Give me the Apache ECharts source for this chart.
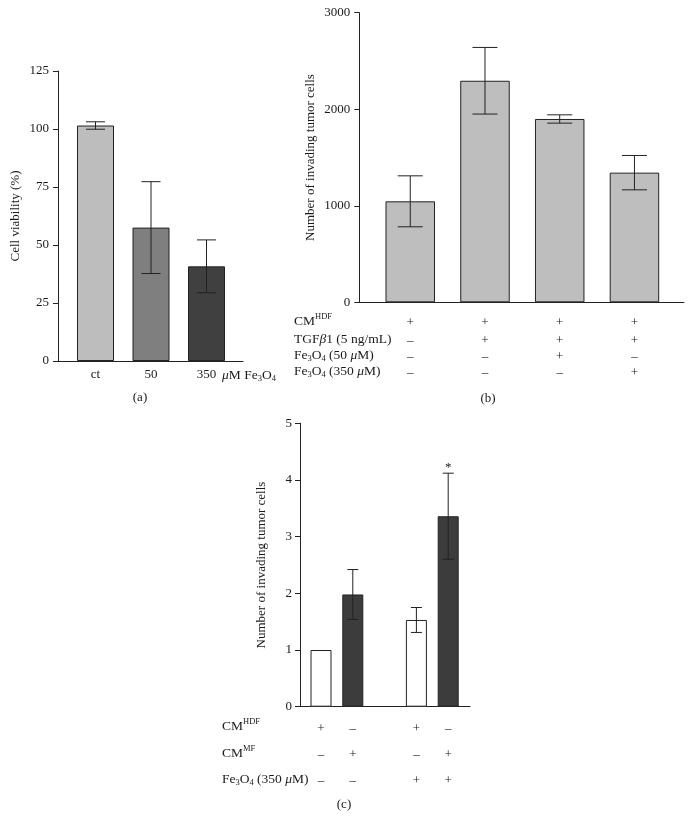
<!DOCTYPE html>
<html>
<head>
<meta charset="utf-8">
<script src="https://cdn.jsdelivr.net/npm/echarts@6/dist/echarts.min.js"></script>
<style>html,body{margin:0;padding:0;background:#fff}#c{width:693px;height:819px}</style>
</head>
<body>
<div id="c"></div>
<script>
// ---------- Panel (a) ----------
const aCats = ['ct', '50', '350'];
const aVals = [101.5, 57.5, 40.8];
const aErr = [1.6, 19.8, 11.4];
const aColors = ['#bdbdbd', '#7f7f7f', '#404040'];
const aYMin = 0, aYMax = 125, aYStep = 25;

// ---------- Panel (b) ----------
const bCats = ['1', '2', '3', '4'];
const bVals = [1046, 2295, 1899, 1343];
const bErr = [264, 345, 43, 178];
const bYMin = 0, bYMax = 3000, bYStep = 1000;
const bRowLabels = ['CM{sup|HDF}', 'TGF{i|β}1 (5 ng/mL)', 'Fe{sub|3}O{sub|4} (50 {i|μ}M)', 'Fe{sub|3}O{sub|4} (350 {i|μ}M)'];
const bSigns = [
  ['+', '+', '+', '+'],
  ['–', '+', '+', '+'],
  ['–', '–', '+', '–'],
  ['–', '–', '–', '+']
];

// ---------- Panel (c) ----------
const cCats = ['1', '2', 'gap', '3', '4'];
const cVals = [1.0, 1.98, null, 1.53, 3.36];
const cErr = [0, 0.44, null, 0.22, 0.76];
const cColors = ['#ffffff', '#3c3c3c', '#ffffff', '#ffffff', '#3c3c3c'];
const cStars = ['', '', '', '', '*'];
const cYMin = 0, cYMax = 5, cYStep = 1;
const cRowLabels = ['CM{sup|HDF}', 'CM{sup|MF}', 'Fe{sub|3}O{sub|4} (350 {i|μ}M)'];
const cSigns = [
  ['+', '–', '', '+', '–'],
  ['–', '+', '', '–', '+'],
  ['–', '–', '', '+', '+']
];

const FF = 'Liberation Serif';
const FS = 13;
const TXT = '#1a1a1a';
const LINE = '#222';
const rich = {
  sup: { fontSize: 8.5, fontFamily: FF, verticalAlign: 'top', lineHeight: 9, color: TXT },
  sub: { fontSize: 8.5, fontFamily: FF, verticalAlign: 'bottom', lineHeight: 9, color: TXT },
  i: { fontSize: 13.5, fontFamily: FF, fontStyle: 'italic', color: TXT, lineHeight: 17 }
};

const chart = echarts.init(document.getElementById('c'), null, { renderer: 'canvas' });

const grids = [], xAxes = [], yAxes = [], series = [], graphics = [];

function addPanel(p) {
  const gA = grids.length;
  grids.push({ left: p.axisLeft, top: p.top, width: p.axisWidth, height: p.height, containLabel: false });
  const gB = grids.length;
  grids.push({ left: p.barLeft, top: p.top, width: p.barWidthGrid, height: p.height, containLabel: false });

  // axis-only grid
  xAxes.push({ gridIndex: gA, type: 'value', min: 0, max: 1, axisLine: { show: true, lineStyle: { color: LINE, width: 1 } },
    axisTick: { show: false }, axisLabel: { show: false }, splitLine: { show: false } });
  yAxes.push({ gridIndex: gA, type: 'value', min: p.yMin, max: p.yMax, interval: p.yStep,
    axisLine: { show: true, lineStyle: { color: LINE, width: 1 } },
    axisTick: { show: true, inside: false, length: 5, lineStyle: { color: LINE } },
    axisLabel: { color: TXT, fontFamily: FF, fontSize: FS, margin: p.labelMargin, formatter: v => String(v) },
    splitLine: { show: false },
    name: p.yName, nameLocation: 'middle', nameGap: p.nameGap, nameRotate: 90,
    nameTextStyle: { color: TXT, fontFamily: FF, fontSize: FS } });

  // bar grid
  const xBar = xAxes.length;
  xAxes.push({ gridIndex: gB, type: 'category', data: p.cats,
    axisLine: { show: false }, axisTick: { show: false },
    axisLabel: { show: !!p.showCatLabels, color: TXT, fontFamily: FF, fontSize: FS, margin: 7 } });
  const yBar = yAxes.length;
  yAxes.push({ gridIndex: gB, type: 'value', min: p.yMin, max: p.yMax, show: false, splitLine: { show: false } });

  // sign rows
  (p.signs || []).forEach((row, r) => {
    xAxes.push({ gridIndex: gB, type: 'category', data: row, position: 'bottom',
      axisLine: { show: false }, axisTick: { show: false },
      axisLabel: { color: TXT, fontFamily: FF, fontSize: FS, margin: p.rowMargins[r], interval: 0 } });
  });

  series.push({ type: 'bar', xAxisIndex: xBar, yAxisIndex: yBar, barWidth: p.barW, silent: true, z: 2,
    data: p.vals.map((v, i) => ({ value: v, itemStyle: { color: p.colors[i], borderColor: LINE, borderWidth: 1 } })),
    animation: false });

  const errData = p.vals.map((v, i) => v == null ? null : [i, v, p.errs[i], p.stars ? p.stars[i] : '']).filter(d => d);
  series.push({ type: 'custom', xAxisIndex: xBar, yAxisIndex: yBar, silent: true, animation: false, z: 5,
    data: errData, encode: { x: 0, y: 1 },
    renderItem: function (params, api) {
      const x = api.value(0), v = api.value(1), e = api.value(2);
      const star = errData[params.dataIndex][3];
      const children = [];
      if (e > 0) {
        const t = api.coord([x, v + e]), b = api.coord([x, v - e]);
        const hw = p.capW / 2;
        const st = { stroke: LINE, lineWidth: 1 };
        children.push({ type: 'line', shape: { x1: t[0], y1: t[1], x2: b[0], y2: b[1] }, style: st });
        children.push({ type: 'line', shape: { x1: t[0] - hw, y1: t[1], x2: t[0] + hw, y2: t[1] }, style: st });
        children.push({ type: 'line', shape: { x1: b[0] - hw, y1: b[1], x2: b[0] + hw, y2: b[1] }, style: st });
        if (star) {
          children.push({ type: 'text', style: { text: star, x: t[0], y: t[1] + 1, align: 'center', verticalAlign: 'bottom',
            fontFamily: FF, fontSize: 13, fill: TXT } });
        }
      }
      return { type: 'group', children: children };
    } });
}

addPanel({
  axisLeft: 58, axisWidth: 185, barLeft: 67.75, barWidthGrid: 166.5, top: 71, height: 290,
  yMin: aYMin, yMax: aYMax, yStep: aYStep, yName: 'Cell viability (%)', nameGap: 36, labelMargin: 9,
  cats: aCats, showCatLabels: true, vals: aVals, errs: aErr, colors: aColors, barW: 37, capW: 19
});
addPanel({
  axisLeft: 359.3, axisWidth: 324.7, barLeft: 372.9, barWidthGrid: 298.9, top: 12.7, height: 289.6,
  yMin: bYMin, yMax: bYMax, yStep: bYStep, yName: 'Number of invading tumor cells', nameGap: 42, labelMargin: 9,
  cats: bCats, showCatLabels: false, vals: bVals, errs: bErr, colors: bVals.map(() => '#bebebe'), barW: 49.5, capW: 25,
  signs: bSigns, rowMargins: [14, 32, 48, 64]
});
addPanel({
  axisLeft: 300, axisWidth: 170, barLeft: 305.1, barWidthGrid: 159, top: 423.3, height: 283.4,
  yMin: cYMin, yMax: cYMax, yStep: cYStep, yName: 'Number of invading tumor cells', nameGap: 32, labelMargin: 8,
  cats: cCats, showCatLabels: false, vals: cVals, errs: cErr, colors: cColors, barW: 21, capW: 11, stars: cStars,
  signs: cSigns, rowMargins: [15, 41, 67]
});

function label(text, x, y, align, fs) {
  graphics.push({ type: 'text', x: x, y: y, silent: true,
    style: { text: text, fontFamily: FF, fontSize: fs || 13.5, fill: TXT, align: align || 'left', verticalAlign: 'middle',
      lineHeight: 17, rich: rich } });
}
// panel (a) unit label and captions
label('{i|μ}M Fe{sub|3}O{sub|4}', 222, 375);
label('(a)', 140, 398, 'center', 13);
label('(b)', 488, 399, 'center', 13);
label('(c)', 344, 805, 'center', 13);
// row labels (b)
const bRowY = [321, 339, 355, 371];
bRowLabels.forEach((t, i) => label(t, 294, bRowY[i]));
// row labels (c)
const cRowY = [726, 753, 779];
cRowLabels.forEach((t, i) => label(t, 222, cRowY[i]));

chart.setOption({
  backgroundColor: '#ffffff',
  animation: false,
  grid: grids, xAxis: xAxes, yAxis: yAxes, series: series, graphic: graphics
});
</script>
</body>
</html>
